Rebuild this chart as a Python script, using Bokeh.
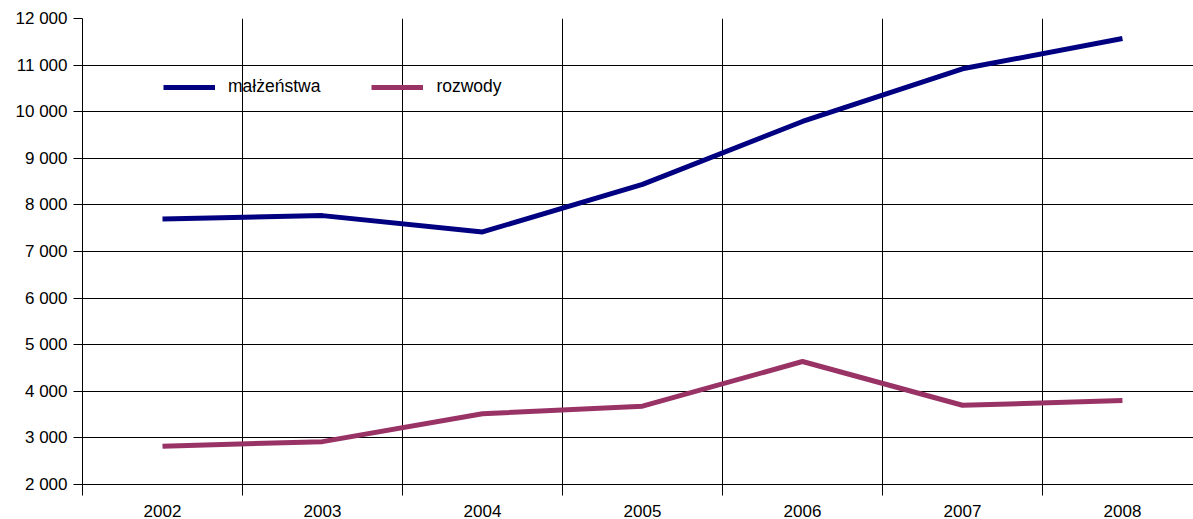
from bokeh.plotting import figure
from bokeh.models import FixedTicker, Legend, LegendItem, Range1d
from bokeh.embed import file_html
from bokeh.resources import INLINE

years = ["2002", "2003", "2004", "2005", "2006", "2007", "2008"]
malzenstwa = [7700, 7770, 7420, 8440, 9790, 10920, 11570]
rozwody = [2820, 2920, 3520, 3680, 4640, 3700, 3800]
y_ticks = [2000, 3000, 4000, 5000, 6000, 7000, 8000, 9000, 10000, 11000, 12000]

xs = list(range(len(years)))
FONT = "Liberation Sans"

p = figure(frame_width=1111, frame_height=466, output_backend="svg",
           toolbar_location=None, x_range=Range1d(-0.5, 6.444),
           y_range=Range1d(2000, 12000))
p.min_border_left = 82
p.min_border_right = 0
p.min_border_top = 18
p.min_border_bottom = 35
p.outline_line_color = None
p.background_fill_color = "white"

r1 = p.line(xs, malzenstwa, line_color="#000080", line_width=5)
r2 = p.line(xs, rozwody, line_color="#993366", line_width=5)

# x axis: labels at centres, ticks/grid at boundaries
xt = FixedTicker(ticks=xs, minor_ticks=[x - 0.5 for x in xs] + [len(xs) - 0.5])
p.xaxis.ticker = xt
p.xaxis.major_label_overrides = {i: y for i, y in enumerate(years)}
p.xaxis.major_tick_out = 0
p.xaxis.major_tick_in = 0
p.xaxis.minor_tick_out = 11
p.xaxis.minor_tick_in = 0
p.xaxis.minor_tick_line_color = "black"
p.xaxis.axis_line_color = "black"
p.xaxis.major_label_standoff = 9
p.xaxis.major_label_text_font = FONT
p.xaxis.major_label_text_font_size = "17px"
p.xaxis.major_label_text_color = "black"
p.xgrid.ticker = xt
p.xgrid.grid_line_color = None
p.xgrid.minor_grid_line_color = "black"
p.xgrid.minor_grid_line_width = 1

# y axis
yt = FixedTicker(ticks=y_ticks, minor_ticks=[])
p.yaxis.ticker = yt
p.yaxis.major_label_overrides = {v: f"{v:,}".replace(",", " ") for v in y_ticks}
p.yaxis.major_tick_out = 9
p.yaxis.major_tick_in = 0
p.yaxis.minor_tick_out = 0
p.yaxis.minor_tick_in = 0
p.yaxis.axis_line_color = "black"
p.yaxis.major_tick_line_color = "black"
p.yaxis.major_label_standoff = 6
p.yaxis.major_label_text_font = FONT
p.yaxis.major_label_text_font_size = "17px"
p.yaxis.major_label_text_color = "black"
p.ygrid.ticker = yt
p.ygrid.grid_line_color = "black"
p.ygrid.grid_line_width = 1

legend = Legend(items=[LegendItem(label="małżeństwa", renderers=[r1]),
                       LegendItem(label="rozwody", renderers=[r2])],
                orientation="horizontal", location=(81, 387),
                glyph_width=52, glyph_height=20, label_standoff=13,
                spacing=51, padding=0, margin=0,
                background_fill_alpha=0, border_line_color=None,
                label_text_font=FONT, label_text_font_size="17.5px",
                label_text_color="black")
p.add_layout(legend, "center")

open("out.html", "w").write(file_html(p, INLINE))
